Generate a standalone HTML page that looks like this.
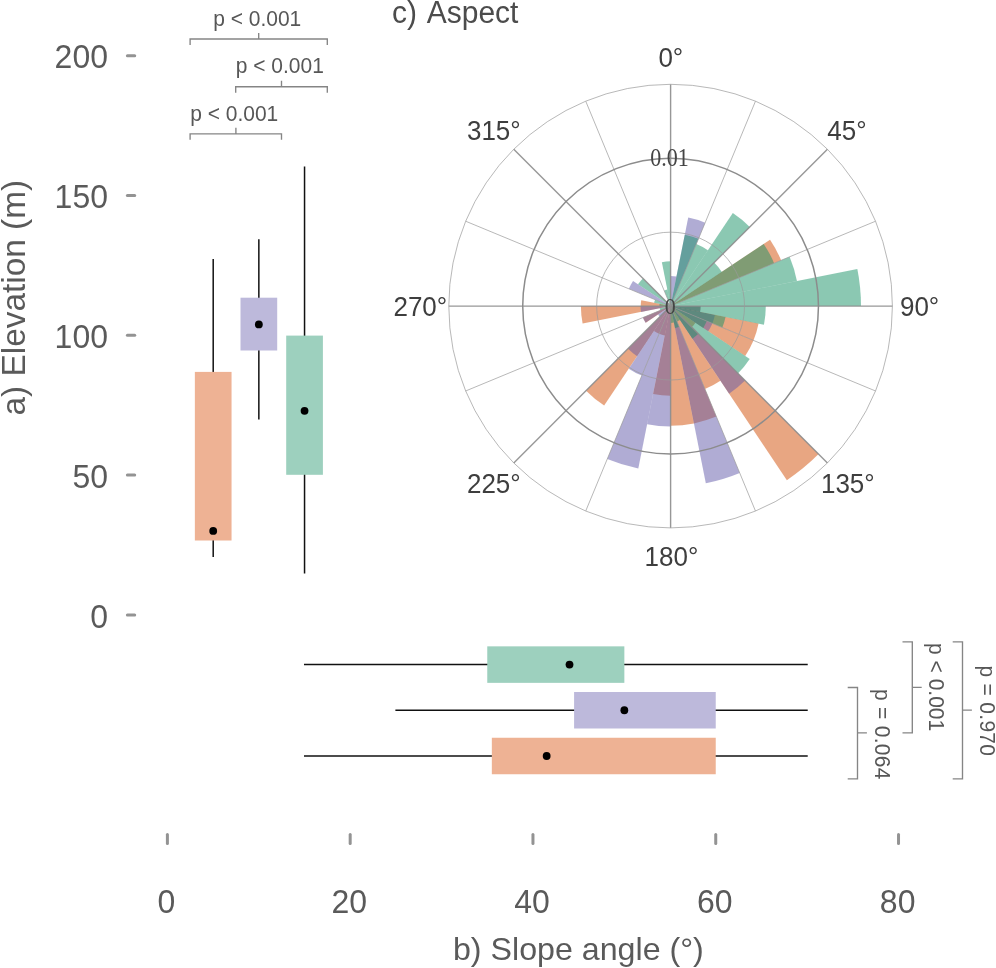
<!DOCTYPE html>
<html><head><meta charset="utf-8"><title>Figure</title>
<style>html,body{margin:0;padding:0;background:#fff}body{width:996px;height:968px;position:relative;overflow:hidden;font-family:"Liberation Sans",sans-serif}</style>
</head><body>
<svg width="996" height="968" viewBox="0 0 996 968" style="position:absolute;left:0;top:0;will-change:transform;font-family:'Liberation Sans',sans-serif">
<rect width="996" height="968" fill="#ffffff"/>
<line x1="127.4" y1="614.90" x2="134.7" y2="614.90" stroke="#939393" stroke-width="3" stroke-linecap="round"/>
<text transform="translate(108,627.60) scale(1,1.06)" font-size="32" text-anchor="end" fill="#5a5a5a">0</text>
<line x1="127.4" y1="475.10" x2="134.7" y2="475.10" stroke="#939393" stroke-width="3" stroke-linecap="round"/>
<text transform="translate(108,487.80) scale(1,1.06)" font-size="32" text-anchor="end" fill="#5a5a5a">50</text>
<line x1="127.4" y1="335.30" x2="134.7" y2="335.30" stroke="#939393" stroke-width="3" stroke-linecap="round"/>
<text transform="translate(108,348.00) scale(1,1.06)" font-size="32" text-anchor="end" fill="#5a5a5a">100</text>
<line x1="127.4" y1="195.50" x2="134.7" y2="195.50" stroke="#939393" stroke-width="3" stroke-linecap="round"/>
<text transform="translate(108,208.20) scale(1,1.06)" font-size="32" text-anchor="end" fill="#5a5a5a">150</text>
<line x1="127.4" y1="55.70" x2="134.7" y2="55.70" stroke="#939393" stroke-width="3" stroke-linecap="round"/>
<text transform="translate(108,68.40) scale(1,1.06)" font-size="32" text-anchor="end" fill="#5a5a5a">200</text>
<text transform="translate(24.5,297.7) rotate(-90)" font-size="33.4" text-anchor="middle" fill="#5a5a5a">a) Elevation (m)</text>
<line x1="213.2" y1="259.1" x2="213.2" y2="556.9" stroke="#111" stroke-width="1.5"/>
<rect x="194.85" y="371.9" width="36.7" height="168.60" fill="#EEB294"/>
<circle cx="213.2" cy="530.9" r="3.9" fill="#000"/>
<line x1="258.85" y1="239.3" x2="258.85" y2="419.6" stroke="#111" stroke-width="1.5"/>
<rect x="240.50" y="297.7" width="36.7" height="52.80" fill="#BDB9DB"/>
<circle cx="258.85" cy="324.4" r="3.9" fill="#000"/>
<line x1="304.55" y1="166.5" x2="304.55" y2="573.6" stroke="#111" stroke-width="1.5"/>
<rect x="286.20" y="335.6" width="36.7" height="139.20" fill="#9DD0BE"/>
<circle cx="304.55" cy="410.8" r="3.9" fill="#000"/>
<path d="M190.1 45.0 V39.0 H327.3 V45.0 M258.7 39.0 V33.0" fill="none" stroke="#858585" stroke-width="1.35"/>
<path d="M235.7 92.7 V86.7 H327.3 V92.7 M281.5 86.7 V80.7" fill="none" stroke="#858585" stroke-width="1.35"/>
<path d="M190.1 139.8 V133.8 H281.5 V139.8 M235.9 133.8 V127.80000000000001" fill="none" stroke="#858585" stroke-width="1.35"/>
<text transform="translate(257.2,25.7) scale(1,1.07)" font-size="21" text-anchor="middle" fill="#575757">p &lt; 0.001</text>
<text transform="translate(279.8,73.1) scale(1,1.07)" font-size="21" text-anchor="middle" fill="#575757">p &lt; 0.001</text>
<text transform="translate(234.2,120.5) scale(1,1.07)" font-size="21" text-anchor="middle" fill="#575757">p &lt; 0.001</text>
<line x1="167.40" y1="834.5" x2="167.40" y2="843.5" stroke="#939393" stroke-width="3" stroke-linecap="round"/>
<text transform="translate(166.50,913.3) scale(1,1.06)" font-size="32" text-anchor="middle" fill="#5a5a5a">0</text>
<line x1="350.18" y1="834.5" x2="350.18" y2="843.5" stroke="#939393" stroke-width="3" stroke-linecap="round"/>
<text transform="translate(349.28,913.3) scale(1,1.06)" font-size="32" text-anchor="middle" fill="#5a5a5a">20</text>
<line x1="532.96" y1="834.5" x2="532.96" y2="843.5" stroke="#939393" stroke-width="3" stroke-linecap="round"/>
<text transform="translate(532.06,913.3) scale(1,1.06)" font-size="32" text-anchor="middle" fill="#5a5a5a">40</text>
<line x1="715.74" y1="834.5" x2="715.74" y2="843.5" stroke="#939393" stroke-width="3" stroke-linecap="round"/>
<text transform="translate(714.84,913.3) scale(1,1.06)" font-size="32" text-anchor="middle" fill="#5a5a5a">60</text>
<line x1="898.52" y1="834.5" x2="898.52" y2="843.5" stroke="#939393" stroke-width="3" stroke-linecap="round"/>
<text transform="translate(897.62,913.3) scale(1,1.06)" font-size="32" text-anchor="middle" fill="#5a5a5a">80</text>
<text x="578.4" y="959.8" font-size="32.2" text-anchor="middle" fill="#5a5a5a">b) Slope angle (°)</text>
<line x1="303.99" y1="664.6" x2="807.73" y2="664.6" stroke="#111" stroke-width="1.5"/>
<rect x="487.26" y="646.35" width="137.09" height="36.5" fill="#9DD0BE"/>
<circle cx="569.52" cy="664.6" r="3.9" fill="#000"/>
<line x1="395.38" y1="710.25" x2="807.73" y2="710.25" stroke="#111" stroke-width="1.5"/>
<rect x="574.09" y="692.00" width="141.65" height="36.5" fill="#BDB9DB"/>
<circle cx="624.35" cy="710.25" r="3.9" fill="#000"/>
<line x1="303.99" y1="756.0" x2="807.73" y2="756.0" stroke="#111" stroke-width="1.5"/>
<rect x="491.83" y="737.75" width="223.91" height="36.5" fill="#EEB294"/>
<circle cx="546.67" cy="756.0" r="3.9" fill="#000"/>
<path d="M847.7 687.5 H857.5 V778.9 H847.7 M857.5 732.8 H866.9" fill="none" stroke="#858585" stroke-width="1.35"/>
<path d="M902.5 641.9 H912.3 V732.8 H902.5 M912.3 687.3 H921.6999999999999" fill="none" stroke="#858585" stroke-width="1.35"/>
<path d="M952.7 641.9 H962.5 V778.9 H952.7 M962.5 710.1 H971.9" fill="none" stroke="#858585" stroke-width="1.35"/>
<text transform="translate(874.6,734.3) rotate(90) scale(1,1.07)" font-size="21" letter-spacing="0.3" text-anchor="middle" fill="#575757">p = 0.064</text>
<text transform="translate(929.4,687.1) rotate(90) scale(1,1.07)" font-size="21" letter-spacing="0" text-anchor="middle" fill="#575757">p &lt; 0.001</text>
<text transform="translate(979.7,710.9) rotate(90) scale(1,1.07)" font-size="21" letter-spacing="0.3" text-anchor="middle" fill="#575757">p = 0.970</text>
<text transform="translate(391.9,22.7) scale(1,1.07)" font-size="30" word-spacing="3.2" fill="#4c4c4c">c) Aspect</text>
<path d="M670.6 306.1 L700.50 306.10 A29.9 29.9 0 0 1 699.93 311.93 Z" fill="rgb(209,77,5)" fill-opacity="0.5"/>
<path d="M670.6 306.1 L770.04 239.65 A119.6 119.6 0 0 1 781.10 260.33 Z" fill="rgb(209,77,5)" fill-opacity="0.5"/>
<path d="M670.6 306.1 L758.58 323.60 A89.69999999999999 89.69999999999999 0 0 1 753.47 340.43 Z" fill="rgb(209,77,5)" fill-opacity="0.5"/>
<path d="M670.6 306.1 L753.47 340.43 A89.69999999999999 89.69999999999999 0 0 1 745.18 355.93 Z" fill="rgb(209,77,5)" fill-opacity="0.5"/>
<path d="M670.6 306.1 L695.46 322.71 A29.9 29.9 0 0 1 691.74 327.24 Z" fill="rgb(209,77,5)" fill-opacity="0.5"/>
<path d="M670.6 306.1 L818.60 454.10 A209.29999999999998 209.29999999999998 0 0 1 786.88 480.13 Z" fill="rgb(209,77,5)" fill-opacity="0.5"/>
<path d="M670.6 306.1 L720.43 380.68 A89.69999999999999 89.69999999999999 0 0 1 704.93 388.97 Z" fill="rgb(209,77,5)" fill-opacity="0.5"/>
<path d="M670.6 306.1 L716.37 416.60 A119.6 119.6 0 0 1 693.93 423.40 Z" fill="rgb(209,77,5)" fill-opacity="0.5"/>
<path d="M670.6 306.1 L693.93 423.40 A119.6 119.6 0 0 1 670.60 425.70 Z" fill="rgb(209,77,5)" fill-opacity="0.5"/>
<path d="M670.6 306.1 L670.60 395.80 A89.69999999999999 89.69999999999999 0 0 1 653.10 394.08 Z" fill="rgb(209,77,5)" fill-opacity="0.5"/>
<path d="M670.6 306.1 L664.77 335.43 A29.9 29.9 0 0 1 659.16 333.72 Z" fill="rgb(209,77,5)" fill-opacity="0.5"/>
<path d="M670.6 306.1 L659.16 333.72 A29.9 29.9 0 0 1 653.99 330.96 Z" fill="rgb(209,77,5)" fill-opacity="0.5"/>
<path d="M670.6 306.1 L604.15 405.54 A119.6 119.6 0 0 1 586.03 390.67 Z" fill="rgb(209,77,5)" fill-opacity="0.5"/>
<path d="M670.6 306.1 L645.74 322.71 A29.9 29.9 0 0 1 642.98 317.54 Z" fill="rgb(209,77,5)" fill-opacity="0.5"/>
<path d="M670.6 306.1 L582.62 323.60 A89.69999999999999 89.69999999999999 0 0 1 580.90 306.10 Z" fill="rgb(209,77,5)" fill-opacity="0.5"/>
<path d="M670.6 306.1 L640.70 306.10 A29.9 29.9 0 0 1 641.27 300.27 Z" fill="rgb(209,77,5)" fill-opacity="0.5"/>
<path d="M670.6 306.1 L670.60 276.00 A30.1 30.1 0 0 1 676.47 276.58 Z" fill="rgb(97,89,169)" fill-opacity="0.5"/>
<path d="M670.6 306.1 L688.22 217.54 A90.30000000000001 90.30000000000001 0 0 1 705.16 222.67 Z" fill="rgb(97,89,169)" fill-opacity="0.5"/>
<path d="M670.6 306.1 L700.70 306.10 A30.1 30.1 0 0 1 700.12 311.97 Z" fill="rgb(97,89,169)" fill-opacity="0.5"/>
<path d="M670.6 306.1 L714.88 314.91 A45.150000000000006 45.150000000000006 0 0 1 712.31 323.38 Z" fill="rgb(97,89,169)" fill-opacity="0.5"/>
<path d="M670.6 306.1 L712.31 323.38 A45.150000000000006 45.150000000000006 0 0 1 708.14 331.18 Z" fill="rgb(97,89,169)" fill-opacity="0.5"/>
<path d="M670.6 306.1 L745.09 380.59 A105.35000000000001 105.35000000000001 0 0 1 729.13 393.70 Z" fill="rgb(97,89,169)" fill-opacity="0.5"/>
<path d="M670.6 306.1 L739.71 472.95 A180.60000000000002 180.60000000000002 0 0 1 705.83 483.23 Z" fill="rgb(97,89,169)" fill-opacity="0.5"/>
<path d="M670.6 306.1 L670.60 426.50 A120.4 120.4 0 0 1 647.11 424.19 Z" fill="rgb(97,89,169)" fill-opacity="0.5"/>
<path d="M670.6 306.1 L638.30 468.47 A165.55 165.55 0 0 1 607.25 459.05 Z" fill="rgb(97,89,169)" fill-opacity="0.5"/>
<path d="M670.6 306.1 L641.80 375.62 A75.25 75.25 0 0 1 628.79 368.67 Z" fill="rgb(97,89,169)" fill-opacity="0.5"/>
<path d="M670.6 306.1 L637.15 356.15 A60.2 60.2 0 0 1 628.03 348.67 Z" fill="rgb(97,89,169)" fill-opacity="0.5"/>
<path d="M670.6 306.1 L659.96 316.74 A15.05 15.05 0 0 1 658.09 314.46 Z" fill="rgb(97,89,169)" fill-opacity="0.5"/>
<path d="M670.6 306.1 L645.57 322.82 A30.1 30.1 0 0 1 642.79 317.62 Z" fill="rgb(97,89,169)" fill-opacity="0.5"/>
<path d="M670.6 306.1 L641.08 311.97 A30.1 30.1 0 0 1 640.50 306.10 Z" fill="rgb(97,89,169)" fill-opacity="0.5"/>
<path d="M670.6 306.1 L628.89 288.82 A45.150000000000006 45.150000000000006 0 0 1 633.06 281.02 Z" fill="rgb(97,89,169)" fill-opacity="0.5"/>
<path d="M670.6 306.1 L684.80 234.70 A72.8 72.8 0 0 1 698.46 238.84 Z" fill="rgb(23,145,101)" fill-opacity="0.5"/>
<path d="M670.6 306.1 L696.32 244.02 A67.19999999999999 67.19999999999999 0 0 1 707.93 250.23 Z" fill="rgb(23,145,101)" fill-opacity="0.5"/>
<path d="M670.6 306.1 L732.82 212.98 A112.0 112.0 0 0 1 749.80 226.90 Z" fill="rgb(23,145,101)" fill-opacity="0.5"/>
<path d="M670.6 306.1 L714.16 262.54 A61.599999999999994 61.599999999999994 0 0 1 721.82 271.88 Z" fill="rgb(23,145,101)" fill-opacity="0.5"/>
<path d="M670.6 306.1 L763.72 243.88 A112.0 112.0 0 0 1 774.07 263.24 Z" fill="rgb(23,145,101)" fill-opacity="0.5"/>
<path d="M670.6 306.1 L789.60 256.81 A128.79999999999998 128.79999999999998 0 0 1 796.93 280.97 Z" fill="rgb(23,145,101)" fill-opacity="0.5"/>
<path d="M670.6 306.1 L857.34 268.95 A190.39999999999998 190.39999999999998 0 0 1 861.00 306.10 Z" fill="rgb(23,145,101)" fill-opacity="0.5"/>
<path d="M670.6 306.1 L765.80 306.10 A95.19999999999999 95.19999999999999 0 0 1 763.97 324.67 Z" fill="rgb(23,145,101)" fill-opacity="0.5"/>
<path d="M670.6 306.1 L725.52 317.03 A56.0 56.0 0 0 1 722.34 327.53 Z" fill="rgb(23,145,101)" fill-opacity="0.5"/>
<path d="M670.6 306.1 L706.82 321.10 A39.199999999999996 39.199999999999996 0 0 1 703.19 327.88 Z" fill="rgb(23,145,101)" fill-opacity="0.5"/>
<path d="M670.6 306.1 L749.76 358.99 A95.19999999999999 95.19999999999999 0 0 1 737.92 373.42 Z" fill="rgb(23,145,101)" fill-opacity="0.5"/>
<path d="M670.6 306.1 L698.32 333.82 A39.199999999999996 39.199999999999996 0 0 1 692.38 338.69 Z" fill="rgb(23,145,101)" fill-opacity="0.5"/>
<path d="M670.6 306.1 L679.93 320.07 A16.799999999999997 16.799999999999997 0 0 1 677.03 321.62 Z" fill="rgb(23,145,101)" fill-opacity="0.5"/>
<path d="M670.6 306.1 L679.17 326.79 A22.4 22.4 0 0 1 674.97 328.07 Z" fill="rgb(23,145,101)" fill-opacity="0.5"/>
<path d="M670.6 306.1 L673.88 322.58 A16.799999999999997 16.799999999999997 0 0 1 670.60 322.90 Z" fill="rgb(23,145,101)" fill-opacity="0.5"/>
<path d="M670.6 306.1 L660.25 310.39 A11.2 11.2 0 0 1 659.62 308.29 Z" fill="rgb(23,145,101)" fill-opacity="0.5"/>
<path d="M670.6 306.1 L659.40 306.10 A11.2 11.2 0 0 1 659.62 303.91 Z" fill="rgb(23,145,101)" fill-opacity="0.5"/>
<path d="M670.6 306.1 L654.12 302.82 A16.799999999999997 16.799999999999997 0 0 1 655.08 299.67 Z" fill="rgb(23,145,101)" fill-opacity="0.5"/>
<path d="M670.6 306.1 L638.01 284.32 A39.199999999999996 39.199999999999996 0 0 1 642.88 278.38 Z" fill="rgb(23,145,101)" fill-opacity="0.5"/>
<path d="M670.6 306.1 L664.17 290.58 A16.799999999999997 16.799999999999997 0 0 1 667.32 289.62 Z" fill="rgb(23,145,101)" fill-opacity="0.5"/>
<path d="M670.6 306.1 L661.86 262.16 A44.8 44.8 0 0 1 670.60 261.30 Z" fill="rgb(23,145,101)" fill-opacity="0.5"/>
<line x1="670.6" y1="306.1" x2="670.60" y2="84.30" stroke="#8c8c8c" stroke-width="1.4" stroke-opacity="0.9"/>
<line x1="670.6" y1="306.1" x2="755.48" y2="101.18" stroke="#9a9a9a" stroke-width="0.7"/>
<line x1="670.6" y1="306.1" x2="827.44" y2="149.26" stroke="#8c8c8c" stroke-width="1.4" stroke-opacity="0.9"/>
<line x1="670.6" y1="306.1" x2="875.52" y2="221.22" stroke="#9a9a9a" stroke-width="0.7"/>
<line x1="670.6" y1="306.1" x2="892.40" y2="306.10" stroke="#8c8c8c" stroke-width="1.4" stroke-opacity="0.9"/>
<line x1="670.6" y1="306.1" x2="875.52" y2="390.98" stroke="#9a9a9a" stroke-width="0.7"/>
<line x1="670.6" y1="306.1" x2="827.44" y2="462.94" stroke="#8c8c8c" stroke-width="1.4" stroke-opacity="0.9"/>
<line x1="670.6" y1="306.1" x2="755.48" y2="511.02" stroke="#9a9a9a" stroke-width="0.7"/>
<line x1="670.6" y1="306.1" x2="670.60" y2="527.90" stroke="#8c8c8c" stroke-width="1.4" stroke-opacity="0.9"/>
<line x1="670.6" y1="306.1" x2="585.72" y2="511.02" stroke="#9a9a9a" stroke-width="0.7"/>
<line x1="670.6" y1="306.1" x2="513.76" y2="462.94" stroke="#8c8c8c" stroke-width="1.4" stroke-opacity="0.9"/>
<line x1="670.6" y1="306.1" x2="465.68" y2="390.98" stroke="#9a9a9a" stroke-width="0.7"/>
<line x1="670.6" y1="306.1" x2="448.80" y2="306.10" stroke="#8c8c8c" stroke-width="1.4" stroke-opacity="0.9"/>
<line x1="670.6" y1="306.1" x2="465.68" y2="221.22" stroke="#9a9a9a" stroke-width="0.7"/>
<line x1="670.6" y1="306.1" x2="513.76" y2="149.26" stroke="#8c8c8c" stroke-width="1.4" stroke-opacity="0.9"/>
<line x1="670.6" y1="306.1" x2="585.72" y2="101.18" stroke="#9a9a9a" stroke-width="0.7"/>
<circle cx="670.6" cy="306.1" r="73.93" fill="none" stroke="#9a9a9a" stroke-width="0.7"/>
<circle cx="670.6" cy="306.1" r="147.87" fill="none" stroke="#8c8c8c" stroke-width="1.5"/>
<circle cx="670.6" cy="306.1" r="221.8" fill="none" stroke="#9a9a9a" stroke-width="0.7"/>
<text transform="translate(670.8,66.5) scale(1,1.05)" font-size="26" text-anchor="middle" fill="#3e3e3e">0°</text>
<text transform="translate(846.9,139.79999999999998) scale(1,1.05)" font-size="26" text-anchor="middle" fill="#3e3e3e">45°</text>
<text transform="translate(919.6,315.6) scale(1,1.05)" font-size="26" text-anchor="middle" fill="#3e3e3e">90°</text>
<text transform="translate(847.8,493.0) scale(1,1.05)" font-size="26" text-anchor="middle" fill="#3e3e3e">135°</text>
<text transform="translate(671.4,565.5) scale(1,1.05)" font-size="26" text-anchor="middle" fill="#3e3e3e">180°</text>
<text transform="translate(493.8,493.20000000000005) scale(1,1.05)" font-size="26" text-anchor="middle" fill="#3e3e3e">225°</text>
<text transform="translate(420.3,315.8) scale(1,1.05)" font-size="26" text-anchor="middle" fill="#3e3e3e">270°</text>
<text transform="translate(493.8,139.9) scale(1,1.05)" font-size="26" text-anchor="middle" fill="#3e3e3e">315°</text>
<text transform="translate(669.4,166.4) scale(1,1.1)" font-size="22" text-anchor="middle" fill="#444" style="font-family:'Liberation Serif',serif">0.01</text>
<text transform="translate(670.3,313.9) scale(1,1.08)" font-size="22" text-anchor="middle" fill="#444" style="font-family:'Liberation Serif',serif">0</text>
</svg>
</body></html>
